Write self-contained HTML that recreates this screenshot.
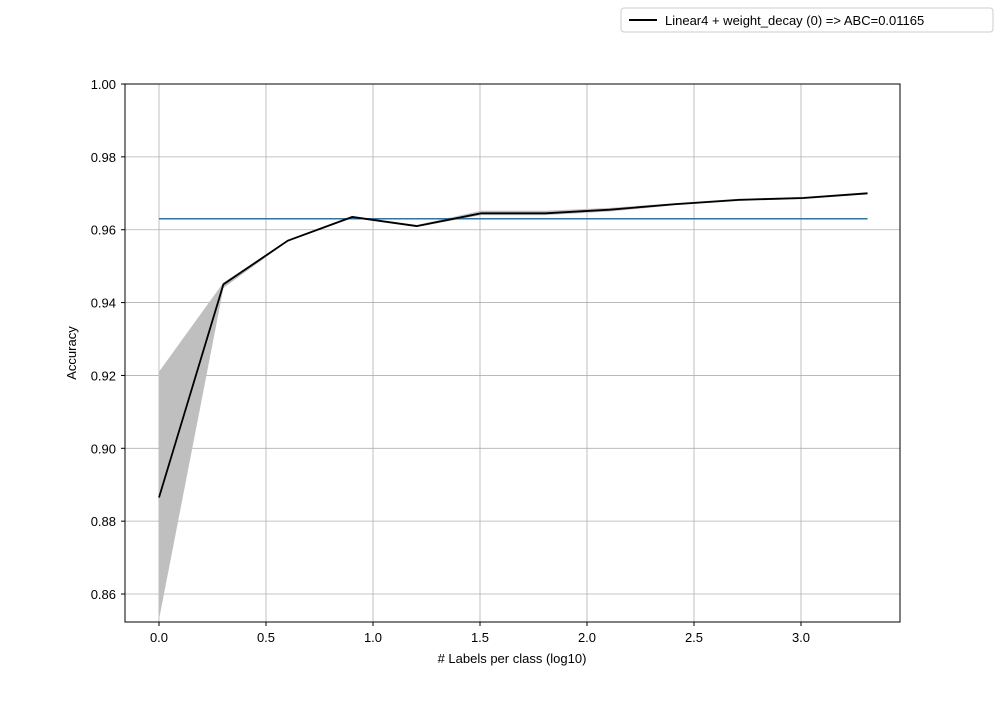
<!DOCTYPE html>
<html><head><meta charset="utf-8"><style>
body{margin:0;background:#fff;}
svg text{font-family:"Liberation Sans","DejaVu Sans",sans-serif;font-size:13px;fill:#000;}
</style></head><body>
<svg id="chart" width="1000" height="700" xmlns="http://www.w3.org/2000/svg">
<g id="grid"></g>
<g id="band"></g>
<g id="lines"></g>
<rect x="125" y="84" width="775" height="538" fill="none" stroke="#000" stroke-width="1"/>
<g id="ticks"></g>
<text x="512" y="663" text-anchor="middle"># Labels per class (log10)</text>
<text transform="translate(76,353) rotate(-90)" text-anchor="middle">Accuracy</text>
<g>
<rect x="621" y="8" width="372" height="24" rx="3" fill="#fff" stroke="#ccc"/>
<line x1="629" y1="20" x2="657" y2="20" stroke="#000" stroke-width="2"/>
<text x="665" y="25">Linear4 + weight_decay (0) =&gt; ABC=0.01165</text>
</g>
</svg>
<script>
const xs=[0,0.301,0.602,0.903,1.204,1.505,1.806,2.107,2.408,2.709,3.01,3.311];
const means=[0.8865,0.945,0.957,0.9635,0.961,0.9645,0.9645,0.9655,0.967,0.9682,0.9687,0.970];
const upper=[0.921,0.9455,0.9572,0.9638,0.9613,0.9652,0.9652,0.966,0.9673,0.9685,0.969,0.9703];
const lower=[0.853,0.944,0.9568,0.9632,0.9607,0.964,0.964,0.965,0.9667,0.9679,0.9684,0.9697];
const baseline=0.963;
const xTicks=[0,0.5,1.0,1.5,2.0,2.5,3.0];
const yTicks=[0.86,0.88,0.90,0.92,0.94,0.96,0.98,1.00];
const X=v=>159+v*214, Y=v=>84+(1-v)*3643;
const ns="http://www.w3.org/2000/svg";
function mk(p,t,a){const e=document.createElementNS(ns,t);for(const k in a)e.setAttribute(k,a[k]);p.appendChild(e);return e;}
const g=document.getElementById('grid'),tk=document.getElementById('ticks');
xTicks.forEach(v=>{const l=mk(g,'line',{x1:X(v),x2:X(v),y1:84,y2:622,stroke:'#b0b0b0','stroke-width':0.8});

mk(tk,'line',{x1:X(v),x2:X(v),y1:622,y2:626,stroke:'#000'});
const t=mk(tk,'text',{x:X(v),y:642,'text-anchor':'middle'});t.textContent=v.toFixed(1);
});
yTicks.forEach(v=>{const l=mk(g,'line',{x1:125,x2:900,y1:Y(v),y2:Y(v),stroke:'#b0b0b0','stroke-width':0.8});

mk(tk,'line',{x1:121,x2:125,y1:Y(v),y2:Y(v),stroke:'#000'});
const t=mk(tk,'text',{x:116,y:Y(v)+5,'text-anchor':'end'});t.textContent=v.toFixed(2);
});
const pts=xs.map((x,i)=>X(x)+','+Y(upper[i])).concat(xs.map((x,i)=>X(x)+','+Y(lower[i])).reverse());
const b=mk(document.getElementById('band'),'polygon',{points:pts.join(' '),fill:'#bfbfbf'});

const L=document.getElementById('lines');
const h=mk(L,'line',{x1:X(xs[0]),x2:X(xs[xs.length-1]),y1:Y(baseline),y2:Y(baseline),stroke:'#1f77b4','stroke-width':1.5});

const m=mk(L,'polyline',{points:xs.map((x,i)=>X(x)+','+Y(means[i])).join(' '),fill:'none',stroke:'#000','stroke-width':1.8});

</script>
</body></html>
